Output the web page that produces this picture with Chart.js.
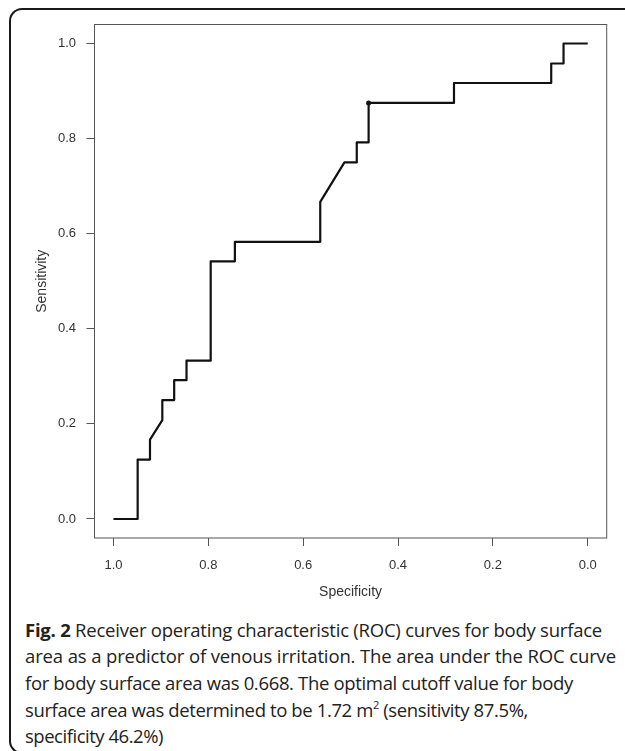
<!DOCTYPE html>
<html><head><meta charset="utf-8">
<script src="https://cdn.jsdelivr.net/npm/chart.js@4"></script>
<style>
html,body{margin:0;padding:0;background:#fff;width:625px;height:751px;overflow:hidden;}
#frame{position:absolute;left:9px;top:7.5px;width:700px;height:746px;border:2px solid #1a1a1a;border-right:none;border-radius:13px 0 0 13px;box-sizing:border-box;}
#wrap{position:absolute;left:0;top:0;width:625px;height:610px;}
#caption{position:absolute;left:25px;top:616.5px;font-family:"Open Sans";font-size:18.5px;line-height:26.7px;color:#222;white-space:nowrap;}
#caption div{height:26.7px;}
#caption b{font-weight:700;}
#caption sup{font-size:11px;line-height:0;vertical-align:8px;}
</style></head>
<body>
<div id="frame"></div>
<div id="wrap"><canvas id="c" width="625" height="610"></canvas></div>
<div id="caption">
<div><span data-w="577"><b>Fig. 2</b> Receiver operating characteristic (ROC) curves for body surface</span></div>
<div><span data-w="591">area as a predictor of venous irritation. The area under the ROC curve</span></div>
<div><span data-w="548">for body surface area was 0.668. The optimal cutoff value for body</span></div>
<div><span data-w="503">surface area was determined to be 1.72 m<sup>2</sup> (sensitivity 87.5%,</span></div>
<div><span data-w="138">specificity 46.2%)</span></div>
</div>
<script>
const specificity = [1.0, 0.949, 0.949, 0.923, 0.923, 0.897, 0.897, 0.872, 0.872, 0.846, 0.846, 0.795, 0.795, 0.744, 0.744, 0.564, 0.564, 0.513, 0.487, 0.487, 0.462, 0.462, 0.282, 0.282, 0.077, 0.077, 0.051, 0.051, 0.0];
const sensitivity = [0, 0, 0.125, 0.125, 0.167, 0.208, 0.25, 0.25, 0.292, 0.292, 0.333, 0.333, 0.542, 0.542, 0.583, 0.583, 0.667, 0.75, 0.75, 0.792, 0.792, 0.875, 0.875, 0.917, 0.917, 0.958, 0.958, 1.0, 1.0];
const cutoffSpecificity = [0.462];
const cutoffSensitivity = [0.875];
const xTickValues = [1.0, 0.8, 0.6, 0.4, 0.2, 0.0];
const yTickValues = [0.0, 0.2, 0.4, 0.6, 0.8, 1.0];

// fit each caption line to the reference line width
document.querySelectorAll('#caption span[data-w]').forEach(sp => {
  const target = parseFloat(sp.dataset.w);
  const w = sp.getBoundingClientRect().width;
  const n = sp.textContent.length;
  sp.style.letterSpacing = ((target - w) / n) + 'px';
});

const FONT = 'Liberation Sans, Arial, sans-serif';
const boxPlugin = {
  id: 'box',
  afterDraw(chart) {
    const {ctx, chartArea: a} = chart;
    ctx.save();
    ctx.strokeStyle = '#555';
    ctx.lineWidth = 1;
    ctx.strokeRect(a.left, a.top, a.right - a.left, a.bottom - a.top);
    ctx.restore();
  }
};

const curve = specificity.map((s, i) => ({x: s, y: sensitivity[i]}));
const cutoff = cutoffSpecificity.map((s, i) => ({x: s, y: cutoffSensitivity[i]}));

new Chart(document.getElementById('c'), {
  type: 'scatter',
  data: {
    datasets: [
      {data: curve, showLine: true, borderColor: '#111', borderWidth: 2.2, pointRadius: 0, tension: 0, borderJoinStyle: 'round', fill: false},
      {data: cutoff, showLine: false, pointRadius: 2.5, backgroundColor: '#111', borderWidth: 0}
    ]
  },
  options: {
    responsive: false,
    devicePixelRatio: 1,
    animation: false,
    layout: {padding: {left: 0, top: 24.5, right: 18.3, bottom: 0}},
    plugins: {legend: {display: false}, tooltip: {enabled: false}},
    scales: {
      x: {
        type: 'linear', reverse: true, min: -0.04, max: 1.04,
        afterBuildTicks: s => { s.ticks = xTickValues.map(v => ({value: v})); },
        afterFit: s => { s.height = 72; },
        ticks: {callback: v => Number(v).toFixed(1), font: {family: FONT, size: 13}, color: '#333', padding: 12, maxRotation: 0, autoSkip: false},
        grid: {display: true, drawOnChartArea: false, drawTicks: true, tickLength: 8, tickColor: '#555', tickWidth: 1},
        border: {display: false},
        title: {display: true, text: 'Specificity', font: {family: FONT, size: 14}, color: '#333', padding: {top: 0, bottom: 9.6}}
      },
      y: {
        type: 'linear', min: -0.04, max: 1.04,
        afterBuildTicks: s => { s.ticks = yTickValues.map(v => ({value: v})); },
        afterFit: s => { s.width = 94.5; },
        ticks: {callback: v => Number(v).toFixed(1), font: {family: FONT, size: 13}, color: '#333', padding: 10.5, autoSkip: false},
        grid: {display: true, drawOnChartArea: false, drawTicks: true, tickLength: 8, tickColor: '#555', tickWidth: 1},
        border: {display: false},
        title: {display: true, text: 'Sensitivity', font: {family: FONT, size: 14}, color: '#333', padding: {top: 33.6, bottom: 0}}
      }
    }
  },
  plugins: [boxPlugin]
});
</script>
</body></html>
